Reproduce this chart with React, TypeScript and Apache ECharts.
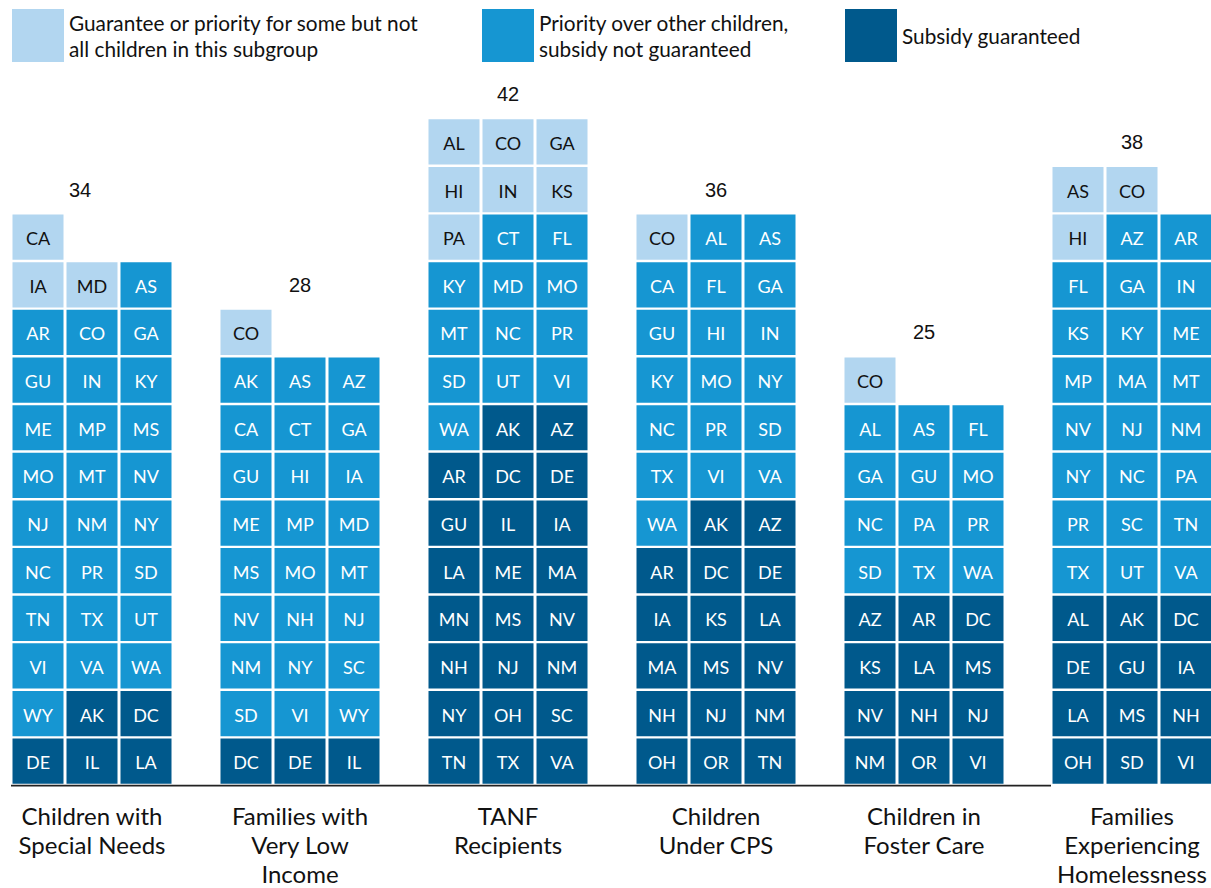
import React, { useEffect, useRef } from "react";
import * as echarts from "echarts";

// ---------- data ----------
const GROUP_NAMES = [
  "Children with\nSpecial Needs",
  "Families with\nVery Low\nIncome",
  "TANF\nRecipients",
  "Children\nUnder CPS",
  "Children in\nFoster Care",
  "Families\nExperiencing\nHomelessness",
];

const LEVEL_NAMES = [
  "Guarantee or priority for some but not\nall children in this subgroup",
  "Priority over other children,\nsubsidy not guaranteed",
  "Subsidy guaranteed",
];

// cells listed from the bottom row upward, left to right; level 1 = partial, 2 = priority, 3 = guaranteed
const specialNeeds: [string, number][] = [
  ["DE", 3], ["IL", 3], ["LA", 3],
  ["WY", 2], ["AK", 3], ["DC", 3],
  ["VI", 2], ["VA", 2], ["WA", 2],
  ["TN", 2], ["TX", 2], ["UT", 2],
  ["NC", 2], ["PR", 2], ["SD", 2],
  ["NJ", 2], ["NM", 2], ["NY", 2],
  ["MO", 2], ["MT", 2], ["NV", 2],
  ["ME", 2], ["MP", 2], ["MS", 2],
  ["GU", 2], ["IN", 2], ["KY", 2],
  ["AR", 2], ["CO", 2], ["GA", 2],
  ["IA", 1], ["MD", 1], ["AS", 2],
  ["CA", 1],
];

const veryLowIncome: [string, number][] = [
  ["DC", 3], ["DE", 3], ["IL", 3],
  ["SD", 2], ["VI", 2], ["WY", 2],
  ["NM", 2], ["NY", 2], ["SC", 2],
  ["NV", 2], ["NH", 2], ["NJ", 2],
  ["MS", 2], ["MO", 2], ["MT", 2],
  ["ME", 2], ["MP", 2], ["MD", 2],
  ["GU", 2], ["HI", 2], ["IA", 2],
  ["CA", 2], ["CT", 2], ["GA", 2],
  ["AK", 2], ["AS", 2], ["AZ", 2],
  ["CO", 1],
];

const tanf: [string, number][] = [
  ["TN", 3], ["TX", 3], ["VA", 3],
  ["NY", 3], ["OH", 3], ["SC", 3],
  ["NH", 3], ["NJ", 3], ["NM", 3],
  ["MN", 3], ["MS", 3], ["NV", 3],
  ["LA", 3], ["ME", 3], ["MA", 3],
  ["GU", 3], ["IL", 3], ["IA", 3],
  ["AR", 3], ["DC", 3], ["DE", 3],
  ["WA", 2], ["AK", 3], ["AZ", 3],
  ["SD", 2], ["UT", 2], ["VI", 2],
  ["MT", 2], ["NC", 2], ["PR", 2],
  ["KY", 2], ["MD", 2], ["MO", 2],
  ["PA", 1], ["CT", 2], ["FL", 2],
  ["HI", 1], ["IN", 1], ["KS", 1],
  ["AL", 1], ["CO", 1], ["GA", 1],
];

const underCps: [string, number][] = [
  ["OH", 3], ["OR", 3], ["TN", 3],
  ["NH", 3], ["NJ", 3], ["NM", 3],
  ["MA", 3], ["MS", 3], ["NV", 3],
  ["IA", 3], ["KS", 3], ["LA", 3],
  ["AR", 3], ["DC", 3], ["DE", 3],
  ["WA", 2], ["AK", 3], ["AZ", 3],
  ["TX", 2], ["VI", 2], ["VA", 2],
  ["NC", 2], ["PR", 2], ["SD", 2],
  ["KY", 2], ["MO", 2], ["NY", 2],
  ["GU", 2], ["HI", 2], ["IN", 2],
  ["CA", 2], ["FL", 2], ["GA", 2],
  ["CO", 1], ["AL", 2], ["AS", 2],
];

const fosterCare: [string, number][] = [
  ["NM", 3], ["OR", 3], ["VI", 3],
  ["NV", 3], ["NH", 3], ["NJ", 3],
  ["KS", 3], ["LA", 3], ["MS", 3],
  ["AZ", 3], ["AR", 3], ["DC", 3],
  ["SD", 2], ["TX", 2], ["WA", 2],
  ["NC", 2], ["PA", 2], ["PR", 2],
  ["GA", 2], ["GU", 2], ["MO", 2],
  ["AL", 2], ["AS", 2], ["FL", 2],
  ["CO", 1],
];

const homelessness: [string, number][] = [
  ["OH", 3], ["SD", 3], ["VI", 3],
  ["LA", 3], ["MS", 3], ["NH", 3],
  ["DE", 3], ["GU", 3], ["IA", 3],
  ["AL", 3], ["AK", 3], ["DC", 3],
  ["TX", 2], ["UT", 2], ["VA", 2],
  ["PR", 2], ["SC", 2], ["TN", 2],
  ["NY", 2], ["NC", 2], ["PA", 2],
  ["NV", 2], ["NJ", 2], ["NM", 2],
  ["MP", 2], ["MA", 2], ["MT", 2],
  ["KS", 2], ["KY", 2], ["ME", 2],
  ["FL", 2], ["GA", 2], ["IN", 2],
  ["HI", 1], ["AZ", 2], ["AR", 2],
  ["AS", 1], ["CO", 1],
];

const GROUP_CELLS = [specialNeeds, veryLowIncome, tanf, underCps, fosterCare, homelessness];

// ---------- styles ----------
const LEVEL_COLORS = ["#b2d6f0", "#1696d2", "#00598c"];
const LEVEL_TEXT = ["#111111", "#ffffff", "#ffffff"];
const COLS = 3;
const COL_PITCH = 54 / 208; // fraction of category band
const CELL_W = 51 / 208;
const CELL_INSET = 1.2;
const SHIFT = 12; // chart canvas starts 12px left of the page
const TOTAL_NUDGE = [-12, 0, 0, 0, 0, 0];
const FONT = "Lato";

export default function App() {
  const ref = useRef<HTMLDivElement>(null);

  useEffect(() => {
    if (!ref.current) return;
    const chart = echarts.init(ref.current, null, { renderer: "svg" });

    const levelData: number[][][] = [[], [], []];
    const levelLabels: string[][] = [[], [], []];
    GROUP_CELLS.forEach((cells, g) => {
      cells.forEach(([label, level], i) => {
        levelData[level - 1].push([g, Math.floor(i / COLS), i % COLS]);
        levelLabels[level - 1].push(label);
      });
    });

    const totals = GROUP_CELLS.map((cells, g) => [g, Math.ceil(cells.length / COLS), cells.length]);

    const leftEdge = (api: any, g: number) => {
      const band = api.size([1, 0])[0];
      const c = api.coord([g, 0]);
      return c[0] - band * COL_PITCH * (COLS - 1) / 2 - (band * CELL_W) / 2 - 1.5;
    };

    const cellSeries = LEVEL_NAMES.map((name, L) => ({
      type: "custom",
      name,
      itemStyle: { color: LEVEL_COLORS[L] },
      encode: { x: 0, y: 1 },
      data: levelData[L],
      renderItem: (params: any, api: any) => {
        const g = api.value(0);
        const r = api.value(1);
        const c = api.value(2);
        const b = api.coord([g, r]);
        const t = api.coord([g, r + 1]);
        const band = api.size([1, 0])[0];
        const cx = b[0] + (c - (COLS - 1) / 2) * band * COL_PITCH;
        const w = band * CELL_W;
        return {
          type: "group",
          children: [
            {
              type: "rect",
              shape: { x: cx - w / 2, y: t[1] + CELL_INSET, width: w, height: b[1] - t[1] - 2 * CELL_INSET },
              style: { fill: LEVEL_COLORS[L] },
            },
            {
              type: "text",
              style: {
                text: levelLabels[L][params.dataIndex],
                x: cx,
                y: (b[1] + t[1]) / 2 + 1,
                align: "center",
                verticalAlign: "middle",
                fill: LEVEL_TEXT[L],
                fontSize: 18,
                fontFamily: FONT,
              },
            },
          ],
        };
      },
    }));

    const totalSeries = {
      type: "custom",
      name: "totals",
      encode: { x: 0, y: 1 },
      data: totals,
      renderItem: (params: any, api: any) => {
        const g = api.value(0);
        const rows = api.value(1);
        const n = api.value(2);
        const p = api.coord([g, rows + 0.5]);
        const base = api.coord([g, 0]);
        const children: any[] = [
          {
            type: "text",
            style: {
              text: String(n),
              x: p[0] + TOTAL_NUDGE[g],
              y: p[1],
              align: "center",
              verticalAlign: "middle",
              fill: "#111111",
              fontSize: 20,
              fontFamily: "Liberation Sans, Arial, sans-serif",
            },
          },
        ];
        if (g < GROUP_CELLS.length - 1) {
          children.push({
            type: "line",
            shape: { x1: leftEdge(api, g), y1: base[1] + 0.6, x2: leftEdge(api, g + 1), y2: base[1] + 0.6 },
            style: { stroke: "#222222", lineWidth: 1.6 },
          });
        }
        return { type: "group", children };
      },
    };

    const legendBase = {
      icon: "rect",
      itemWidth: 52,
      itemHeight: 53,
      padding: 0,
      top: 9,
      selectedMode: false,
      textStyle: { fontSize: 20.8, lineHeight: 26, color: "#111111", fontFamily: FONT },
    };

    chart.setOption({
      animation: false,
      legend: [
        { ...legendBase, left: 12 + SHIFT, data: [LEVEL_NAMES[0]] },
        { ...legendBase, left: 482 + SHIFT, data: [LEVEL_NAMES[1]] },
        { ...legendBase, left: 845 + SHIFT, data: [LEVEL_NAMES[2]] },
      ],
      grid: { left: 0, width: 1248, top: 70.5, bottom: 100.5 },
      xAxis: {
        type: "category",
        data: GROUP_NAMES,
        axisLine: { show: false },
        axisTick: { show: false },
        splitLine: { show: false },
        axisLabel: {
          interval: 0,
          margin: 16,
          fontSize: 24,
          lineHeight: 29,
          color: "#111111",
          fontFamily: FONT,
        },
      },
      yAxis: { type: "value", min: 0, max: 15, show: false },
      series: [...cellSeries, totalSeries],
    });

    return () => chart.dispose();
  }, []);

  return (
    <div style={{ position: "fixed", left: 0, top: 0, width: 1211, height: 888, overflow: "hidden", background: "#fff" }}>
      <div
        ref={ref}
        style={{ position: "absolute", left: -SHIFT, top: 0, width: 1248, height: 888 }}
      />
    </div>
  );
}
